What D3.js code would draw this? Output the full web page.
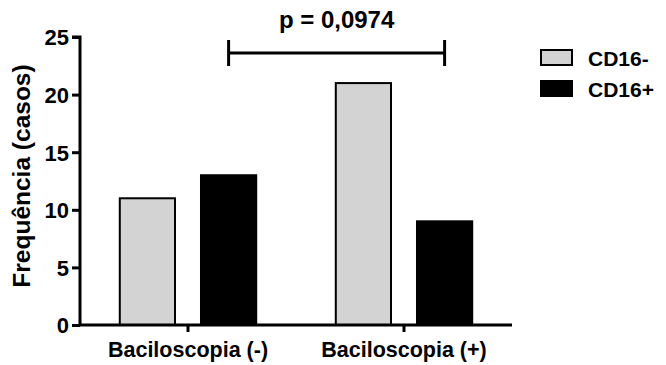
<!DOCTYPE html>
<html>
<head>
<meta charset="utf-8">
<script src="https://cdn.jsdelivr.net/npm/d3@7"></script>
<style>
  body { margin: 0; background: #fff; }
  text { font-family: "Liberation Sans", Arial, sans-serif; font-weight: bold; fill: #000; }
</style>
</head>
<body>
<div id="container"></div>
<script>
const groups = ["Baciloscopia (-)", "Baciloscopia (+)"];
const seriesNames = ["CD16-", "CD16+"];
const cd16Neg = [11, 21];
const cd16Pos = [13, 9];
const yTicks = [0, 5, 10, 15, 20, 25];
const seriesColors = ["#d3d3d3", "#000000"];
const pLabel = "p = 0,0974";

const width = 666;
const height = 365;
const marginLeft = 80;
const marginRight = 154;
const marginTop = 37;
const marginBottom = 40;

const x = d3.scaleBand()
  .domain(groups)
  .range([marginLeft, width - marginRight]);

const xSub = d3.scaleBand()
  .domain(seriesNames)
  .range([0, x.bandwidth()])
  .paddingInner(0.32)
  .paddingOuter(0.49);

const y = d3.scaleLinear()
  .domain([0, 25])
  .range([height - marginBottom, marginTop]);

const data = groups.map((g, i) => [
  { group: g, key: seriesNames[0], value: cd16Neg[i] },
  { group: g, key: seriesNames[1], value: cd16Pos[i] }
]).flat();

const color = d3.scaleOrdinal().domain(seriesNames).range(seriesColors);

const svg = d3.create("svg")
  .attr("width", width)
  .attr("height", height);

// bars
svg.append("g")
  .selectAll()
  .data(data)
  .join("rect")
  .attr("x", d => x(d.group) + xSub(d.key))
  .attr("y", d => y(d.value))
  .attr("width", xSub.bandwidth())
  .attr("height", d => y(0) - y(d.value))
  .attr("fill", d => color(d.key))
  .attr("stroke", "#000")
  .attr("stroke-width", 2);

// y axis
const yAxis = svg.append("g")
  .attr("transform", `translate(${marginLeft},0)`)
  .call(d3.axisLeft(y).tickValues(yTicks).tickSize(8).tickPadding(3));
yAxis.select(".domain").attr("stroke-width", 3).attr("d", `M-8,${y(25)}H0V${y(0)}`);
yAxis.selectAll(".tick line").attr("stroke-width", 3);
yAxis.selectAll(".tick text").attr("font-size", 22).attr("font-family", null).attr("dy", "0.36em");

// x axis
const xAxis = svg.append("g")
  .attr("transform", `translate(0,${y(0)})`)
  .call(d3.axisBottom(x).tickSize(7).tickPadding(10));
xAxis.select(".domain").attr("stroke-width", 3).attr("d", `M${marginLeft},0H${width - marginRight}`);
xAxis.selectAll(".tick line").attr("stroke-width", 3);
xAxis.selectAll(".tick text").attr("font-size", 21.5).attr("font-family", null).attr("dy", "0.72em");

// y label
svg.append("text")
  .attr("transform", `translate(30,176) rotate(-90)`)
  .attr("text-anchor", "middle")
  .attr("font-size", 24.5)
  .text("Frequência (casos)");

// significance bracket
const x1 = x(groups[0]) + xSub(seriesNames[1]) + xSub.bandwidth() / 2;
const x2 = x(groups[1]) + xSub(seriesNames[1]) + xSub.bandwidth() / 2;
const by = 53;
const bracket = svg.append("g").attr("stroke", "#000").attr("stroke-width", 3);
bracket.append("line").attr("x1", x1).attr("x2", x2).attr("y1", by).attr("y2", by);
bracket.append("line").attr("x1", x1).attr("x2", x1).attr("y1", by - 13).attr("y2", by + 13);
bracket.append("line").attr("x1", x2).attr("x2", x2).attr("y1", by - 13).attr("y2", by + 13);
svg.append("text")
  .attr("x", (x1 + x2) / 2)
  .attr("y", 28)
  .attr("text-anchor", "middle")
  .attr("font-size", 24)
  .text(pLabel);

// legend
const legend = svg.append("g")
  .selectAll()
  .data(seriesNames)
  .join("g")
  .attr("transform", (d, i) => `translate(541,${50 + i * 31})`);
legend.append("rect")
  .attr("width", 31)
  .attr("height", 15)
  .attr("fill", d => color(d))
  .attr("stroke", "#000")
  .attr("stroke-width", 2);
legend.append("text")
  .attr("x", 47)
  .attr("y", 8)
  .attr("dy", "0.36em")
  .attr("font-size", 21)
  .text(d => d);

d3.select("#container").append(() => svg.node());
</script>
</body>
</html>
